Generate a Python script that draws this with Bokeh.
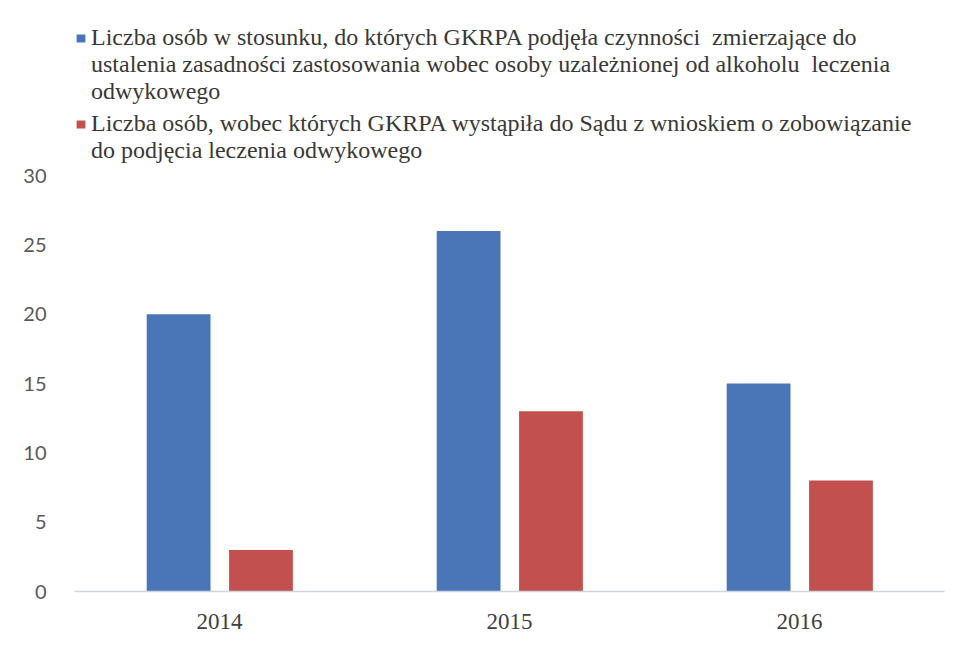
from bokeh.plotting import figure
from bokeh.models import ColumnDataSource, FixedTicker, Range1d, FactorRange, Legend, LegendItem
from bokeh.transform import dodge
from bokeh.embed import file_html
from bokeh.resources import INLINE

years = ["2014", "2015", "2016"]
series_a = [20, 26, 15]
series_b = [3, 13, 8]
label_a_lines = ["Liczba osób w stosunku, do których GKRPA podjęła czynności  zmierzające do",
                 "ustalenia zasadności zastosowania wobec osoby uzależnionej od alkoholu  leczenia",
                 "odwykowego"]
label_b_lines = ["Liczba osób, wobec których GKRPA wystąpiła do Sądu z wnioskiem o zobowiązanie",
                 "do podjęcia leczenia odwykowego"]
y_ticks = [0, 5, 10, 15, 20, 25, 30]

BLUE = "#4A76B8"
RED = "#C2504E"

src = ColumnDataSource(dict(year=years, a=series_a, b=series_b))

p = figure(width=952, height=638, x_range=FactorRange(*years, range_padding=0),
           y_range=Range1d(0, 41.18), output_backend="svg", toolbar_location=None,
           min_border_left=74, min_border_right=8, min_border_top=20, min_border_bottom=47)

r_a = p.vbar(x=dodge("year", -0.141, range=p.x_range), top="a", width=0.22, source=src,
             fill_color=BLUE, line_color=None)
r_b = p.vbar(x=dodge("year", 0.143, range=p.x_range), top="b", width=0.22, source=src,
             fill_color=RED, line_color=None)

p.xgrid.visible = False
p.ygrid.visible = False
p.outline_line_color = None

p.yaxis.ticker = FixedTicker(ticks=y_ticks)
p.yaxis.axis_line_color = None
p.yaxis.major_tick_line_color = None
p.yaxis.minor_tick_line_color = None
p.yaxis.major_label_text_font = "Lato"
p.yaxis.major_label_text_font_size = "20px"
p.yaxis.major_label_text_color = "#595959"
p.yaxis.major_label_standoff = 22

p.xaxis.axis_line_color = "#D0D4DC"
p.xaxis.axis_line_width = 1.5
p.xaxis.major_tick_line_color = None
p.xaxis.minor_tick_line_color = None
p.xaxis.major_label_text_font = "Liberation Serif"
p.xaxis.major_label_text_font_size = "23px"
p.xaxis.major_label_text_color = "#404040"
p.xaxis.major_label_standoff = 16


def make_legend(lines, renderer, loc):
    items = [LegendItem(label=lines[0], renderers=[renderer])]
    items += [LegendItem(label=t, renderers=[]) for t in lines[1:]]
    lg = Legend(items=items, location=loc, margin=0, padding=0,
                border_line_color=None, background_fill_alpha=0,
                label_text_font="Liberation Serif", label_text_font_size="24px",
                label_text_color="#383838", glyph_width=11, glyph_height=10,
                label_height=24, label_standoff=5, spacing=-4)
    p.add_layout(lg, "center")


make_legend(label_a_lines, r_a, (1, 486))
make_legend(label_b_lines, r_b, (1, 427))

open("out.html", "w").write(file_html(p, INLINE))
